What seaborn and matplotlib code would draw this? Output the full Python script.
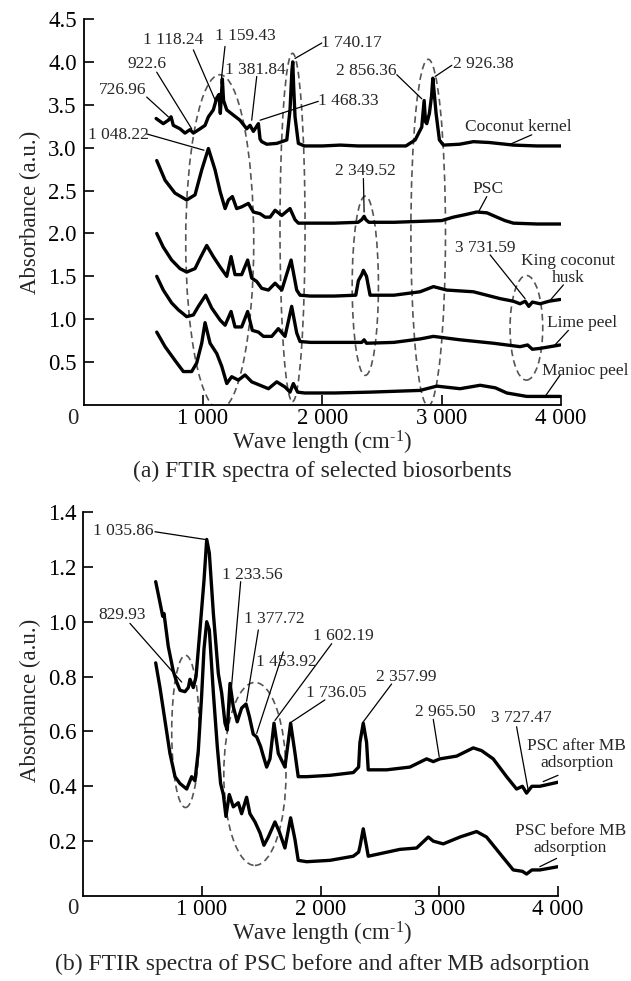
import numpy as np
import matplotlib
matplotlib.use("Agg")
import matplotlib.pyplot as plt
from matplotlib.patches import Ellipse
import seaborn as sns

# ---------------- data ----------------
# Panel (a)
ck_x = [607, 667, 709, 732, 751, 807, 849, 891, 919, 975, 1017, 1045, 1086, 1115,
        1134, 1145, 1162, 1172, 1199, 1254, 1310, 1366, 1394, 1422, 1464, 1478, 1492,
        1534, 1618, 1702, 1729, 1745, 1752, 1760, 1771, 1799, 1850, 2000, 2150, 2300,
        2500, 2700, 2778, 2833, 2853, 2865, 2875, 2897, 2915, 2926, 2940, 2953, 2981,
        3014, 3150, 3266, 3400, 3601, 3800, 4000]
ck_y = [3.34, 3.28, 3.32, 3.36, 3.26, 3.22, 3.17, 3.21, 3.17, 3.22, 3.26, 3.36, 3.44, 3.58,
        3.62, 3.40, 3.80, 3.55, 3.44, 3.38, 3.32, 3.22, 3.26, 3.19, 3.28, 3.10, 3.07,
        3.04, 3.05, 3.09, 3.44, 3.90, 4.00, 3.70, 3.36, 3.05, 3.02, 3.02, 3.03, 3.02,
        3.02, 3.02, 3.09, 3.24, 3.55, 3.30, 3.28, 3.40, 3.60, 3.81, 3.60, 3.40, 3.09,
        3.03, 3.04, 3.07, 3.06, 3.03, 3.02, 3.02]

psc_x = [612, 682, 765, 863, 933, 989, 1045, 1101, 1143, 1185, 1213, 1246, 1282, 1324,
         1380, 1422, 1478, 1520, 1562, 1604, 1660, 1729, 1771, 1799, 1900, 2100, 2300,
         2330, 2350, 2365, 2390, 2600, 2800, 3000, 3098, 3200, 3294, 3380, 3462, 3530,
         3601, 3800, 4000]
psc_y = [2.85, 2.62, 2.47, 2.39, 2.45, 2.74, 2.99, 2.74, 2.49, 2.29, 2.39, 2.43, 2.29, 2.31,
         2.35, 2.25, 2.23, 2.19, 2.19, 2.27, 2.21, 2.29, 2.16, 2.12, 2.12, 2.12, 2.13,
         2.16, 2.20, 2.16, 2.13, 2.13, 2.14, 2.15, 2.19, 2.22, 2.25, 2.24, 2.19, 2.15,
         2.12, 2.11, 2.11]

kch_x = [612, 667, 737, 807, 863, 933, 975, 1031, 1086, 1143, 1199, 1235, 1268, 1324,
         1374, 1408, 1450, 1492, 1548, 1604, 1660, 1738, 1785, 1813, 1900, 2100, 2280,
         2302, 2330, 2344, 2370, 2400, 2600, 2819, 2931, 3043, 3266, 3490, 3600, 3657,
         3700, 3730, 3760, 3825, 3900, 3993]
kch_y = [2.00, 1.84, 1.69, 1.59, 1.55, 1.59, 1.71, 1.86, 1.73, 1.61, 1.50, 1.73, 1.52, 1.52,
         1.69, 1.48, 1.44, 1.36, 1.34, 1.42, 1.34, 1.69, 1.34, 1.28, 1.27, 1.27, 1.28,
         1.45, 1.52, 1.57, 1.50, 1.28, 1.28, 1.32, 1.38, 1.34, 1.32, 1.24, 1.21, 1.18,
         1.21, 1.15, 1.20, 1.18, 1.21, 1.23]

lime_x = [612, 667, 737, 793, 863, 919, 961, 1022, 1073, 1143, 1185, 1235, 1268, 1324,
          1374, 1413, 1464, 1506, 1576, 1631, 1687, 1743, 1785, 1813, 1900, 2100, 2330,
          2350, 2370, 2600, 2819, 2931, 3154, 3434, 3657, 3720, 3760, 3825, 3993]
lime_y = [1.50, 1.34, 1.19, 1.11, 1.03, 1.05, 1.15, 1.28, 1.13, 0.99, 0.93, 1.09, 0.91, 0.91,
          1.09, 0.87, 0.85, 0.80, 0.80, 0.89, 0.80, 1.15, 0.84, 0.74, 0.73, 0.73, 0.73,
          0.76, 0.72, 0.73, 0.77, 0.80, 0.76, 0.72, 0.68, 0.70, 0.65, 0.66, 0.70]

man_x = [612, 682, 765, 835, 905, 947, 989, 1017, 1059, 1115, 1157, 1199, 1240, 1296,
         1352, 1408, 1478, 1548, 1618, 1687, 1729, 1757, 1793, 1850, 2100, 2400, 2819,
         2959, 3154, 3322, 3450, 3546, 3713, 3993]
man_y = [0.85, 0.68, 0.52, 0.39, 0.39, 0.49, 0.72, 0.96, 0.72, 0.60, 0.45, 0.25, 0.33, 0.29,
         0.35, 0.27, 0.23, 0.19, 0.27, 0.21, 0.15, 0.25, 0.15, 0.14, 0.14, 0.15, 0.17,
         0.22, 0.19, 0.23, 0.20, 0.14, 0.10, 0.10]

# Panel (b)
after_x = [610, 646, 669, 680, 716, 758, 787, 815, 857, 885, 899, 927, 950, 983, 1017,
           1040, 1062, 1096, 1138, 1166, 1194, 1213, 1236, 1264, 1297, 1334, 1371, 1399,
           1432, 1461, 1494, 1517, 1545, 1573, 1607, 1643, 1699, 1747, 1784, 1811, 1882,
           2078, 2275, 2320, 2331, 2359, 2387, 2401, 2556, 2752, 2893, 2949, 3005, 3146,
           3286, 3356, 3454, 3567, 3651, 3700, 3735, 3780, 3847, 4002]
after_y = [1.146, 1.07, 1.02, 1.03, 0.91, 0.82, 0.78, 0.75, 0.745, 0.76, 0.79, 0.76, 0.80,
           0.97, 1.15, 1.30, 1.25, 1.03, 0.81, 0.74, 0.63, 0.605, 0.775, 0.69, 0.635,
           0.685, 0.70, 0.655, 0.59, 0.58, 0.545, 0.51, 0.47, 0.50, 0.63, 0.52, 0.47,
           0.63, 0.52, 0.435, 0.435, 0.44, 0.45, 0.47, 0.56, 0.63, 0.56, 0.46, 0.46, 0.47,
           0.50, 0.49, 0.50, 0.51, 0.54, 0.53, 0.50, 0.435, 0.39, 0.40, 0.375, 0.40, 0.40,
           0.415]

before_x = [610, 646, 688, 730, 773, 815, 871, 913, 941, 969, 997, 1017, 1040, 1062, 1096,
            1129, 1157, 1180, 1202, 1230, 1264, 1306, 1334, 1376, 1404, 1447, 1489, 1522,
            1559, 1615, 1651, 1699, 1747, 1784, 1811, 1882, 2078, 2275, 2320, 2331, 2359,
            2387, 2401, 2668, 2809, 2907, 2949, 3033, 3174, 3314, 3398, 3510, 3623, 3700,
            3735, 3780, 3847, 4002]
before_y = [0.85, 0.76, 0.64, 0.52, 0.435, 0.41, 0.39, 0.435, 0.42, 0.53, 0.73, 0.90, 1.00,
            0.97, 0.74, 0.545, 0.41, 0.37, 0.29, 0.37, 0.325, 0.34, 0.30, 0.36, 0.30, 0.27,
            0.23, 0.185, 0.215, 0.27, 0.235, 0.175, 0.285, 0.205, 0.13, 0.125, 0.13, 0.145,
            0.16, 0.18, 0.245, 0.18, 0.145, 0.17, 0.175, 0.215, 0.20, 0.19, 0.215, 0.235,
            0.215, 0.155, 0.095, 0.09, 0.08, 0.095, 0.095, 0.107]

xticks = [1000, 2000, 3000, 4000]
xtick_labels = ["1 000", "2 000", "3 000", "4 000"]
yticks_a = [0.5, 1.0, 1.5, 2.0, 2.5, 3.0, 3.5, 4.0, 4.5]
yticks_b = [0.2, 0.4, 0.6, 0.8, 1.0, 1.2, 1.4]

# peak annotations: (text, text_x, text_y, line_from_x, line_from_y, line_to_x, line_to_y)
ann_a = [
    ("726.96", 329, 3.67, 528, 3.59, 709, 3.36),
    ("922.6", 528, 3.98, 612, 3.88, 905, 3.22),
    ("1 118.24", 751, 4.25, 919, 4.14, 1109, 3.53),
    ("1 159.43", 1352, 4.30, 1184, 4.18, 1150, 3.75),
    ("1 381.84", 1436, 3.90, 1450, 3.83, 1408, 3.32),
    ("1 740.17", 2246, 4.22, 1995, 4.22, 1771, 4.04),
    ("1 468.33", 2218, 3.54, 1966, 3.54, 1478, 3.32),
    ("2 856.36", 2372, 3.89, 2624, 3.85, 2833, 3.57),
    ("2 926.38", 3350, 3.98, 3085, 3.96, 2945, 3.83),
    ("Coconut kernel", 3643, 3.24, 3755, 3.15, 3574, 3.04),
    ("2 349.52", 2358, 2.73, 2344, 2.64, 2350, 2.25),
    ("PSC", 3392, 2.52, 3378, 2.43, 3308, 2.25),
    ("1 048.22", 290, 3.15, 528, 3.16, 1008, 2.97),
    ("3 731.59", 3364, 1.83, 3406, 1.75, 3699, 1.24),
    ("King coconut\nhusk", 4062, 1.58, 4020, 1.40, 3909, 1.22),
    ("Lime peel", 4174, 0.96, 4062, 0.87, 3936, 0.68),
    ("Manioc peel", 4202, 0.40, 3993, 0.35, 3867, 0.10),
]
ann_b = [
    ("1 035.86", 337, 1.33, 604, 1.328, 1025, 1.30),
    ("1 233.56", 1425, 1.17, 1326, 1.146, 1220, 0.62),
    ("1 377.72", 1606, 1.01, 1475, 0.97, 1376, 0.71),
    ("829.93", 331, 1.024, 393, 0.994, 829, 0.78),
    ("1 453.92", 1707, 0.854, 1685, 0.89, 1461, 0.593),
    ("1 602.19", 2190, 0.948, 2093, 0.92, 1615, 0.64),
    ("1 736.05", 2135, 0.739, 2036, 0.715, 1756, 0.635),
    ("2 357.99", 2725, 0.80, 2598, 0.773, 2359, 0.635),
    ("2 965.50", 3047, 0.672, 2949, 0.644, 2999, 0.508),
    ("3 727.47", 3693, 0.648, 3651, 0.617, 3749, 0.386),
    ("PSC after MB\nadsorption", 4157, 0.515, 4000, 0.44, 3875, 0.417),
    ("PSC before MB\nadsorption", 4105, 0.205, 3988, 0.137, 3847, 0.107),
]

# dashed ellipses: (center_x, center_y, width, height)
ell_a = [(1140, 1.90, 570, 3.90), (1750, 2.07, 210, 4.06), (2887, 2.01, 290, 4.04),
         (2360, 1.39, 220, 2.09), (3710, 0.90, 274, 1.22)]
ell_b = [(861, 0.60, 232, 0.555), (1446, 0.445, 524, 0.667)]

# ---------------- styling ----------------
sns.set_style("ticks")
plt.rcParams["font.family"] = ["Liberation Serif", "DejaVu Serif"]
plt.rcParams["mathtext.fontset"] = "custom"
plt.rcParams["mathtext.rm"] = "Liberation Serif"
plt.rcParams["mathtext.it"] = "Liberation Serif:italic"

W, H = 631, 981
fig = plt.figure(figsize=(W / 100, H / 100), dpi=100)
ax_a = fig.add_axes([83.7 / W, 1 - 405 / H, (561 - 83.7) / W, (405 - 19) / H])
ax_b = fig.add_axes([83.3 / W, 1 - 896 / H, (558 - 83.3) / W, (896 - 512) / H])

CURVE_LW = 2.4
TICK_FS = 16.5
ANN_FS = 12.5


def style_axes(ax, ylim, yticks):
    ax.set_xlim(0, 4000)
    ax.set_ylim(*ylim)
    ax.set_xticks(xticks)
    ax.set_xticklabels(xtick_labels)
    ax.set_yticks(yticks)
    ax.set_yticklabels([f"{v:.1f}" for v in yticks])
    for s in ("top", "right"):
        ax.spines[s].set_visible(False)
    for s in ("left", "bottom"):
        ax.spines[s].set_linewidth(1.3)
        ax.spines[s].set_color("black")
    ax.tick_params(axis="both", direction="in", length=7, width=1.2,
                   labelsize=TICK_FS, colors="black")
    ax.tick_params(axis="x", pad=2)
    ax.tick_params(axis="y", pad=5)
    ax.set_xlabel("")
    ax.set_ylabel("")


for xs, ys in [(ck_x, ck_y), (psc_x, psc_y), (kch_x, kch_y), (lime_x, lime_y), (man_x, man_y)]:
    sns.lineplot(x=np.array(xs), y=np.array(ys), ax=ax_a, color="black",
                 linewidth=CURVE_LW, sort=False, estimator=None)
for xs, ys in [(after_x, after_y), (before_x, before_y)]:
    sns.lineplot(x=np.array(xs), y=np.array(ys), ax=ax_b, color="black",
                 linewidth=CURVE_LW, sort=False, estimator=None)

style_axes(ax_a, (0, 4.5), yticks_a)
style_axes(ax_b, (0, 1.4), yticks_b)

for ax, ells in [(ax_a, ell_a), (ax_b, ell_b)]:
    for cx, cy, w, h in ells:
        ax.add_patch(Ellipse((cx, cy), w, h, fill=False, edgecolor="#555555",
                             linewidth=1.2, linestyle=(0, (4, 2.5))))

for ax, anns in [(ax_a, ann_a), (ax_b, ann_b)]:
    for txt, tx, ty, x0, y0, x1, y1 in anns:
        ax.plot([x0, x1], [y0, y1], color="black", lw=0.9, clip_on=False)
        ax.text(tx, ty, txt, fontsize=ANN_FS, ha="center", va="center",
                clip_on=False, linespacing=1.05)

# corner "0" labels
fig.text(73 / W, 1 - 418 / H, "0", fontsize=TICK_FS, ha="center", va="center")
fig.text(73 / W, 1 - 909 / H, "0", fontsize=TICK_FS, ha="center", va="center")

# axis labels and captions
xlab = r"Wave length (cm$^{\text{-1}}$)"
fig.text(322 / W, 1 - 443 / H, xlab, fontsize=16.5, ha="center", va="center")
fig.text(322 / W, 1 - 471 / H, "(a) FTIR spectra of selected biosorbents", fontsize=17,
         ha="center", va="center")
fig.text(322 / W, 1 - 934 / H, xlab, fontsize=16.5, ha="center", va="center")
fig.text(322 / W, 1 - 964 / H, "(b) FTIR spectra of PSC before and after MB adsorption",
         fontsize=17, ha="center", va="center")
fig.text(30 / W, 1 - 212 / H, "Absorbance (a.u.)", fontsize=16.5, rotation=90,
         ha="center", va="center")
fig.text(30 / W, 1 - 700 / H, "Absorbance (a.u.)", fontsize=16.5, rotation=90,
         ha="center", va="center")

fig.savefig("out.png", dpi=100, facecolor="white")
